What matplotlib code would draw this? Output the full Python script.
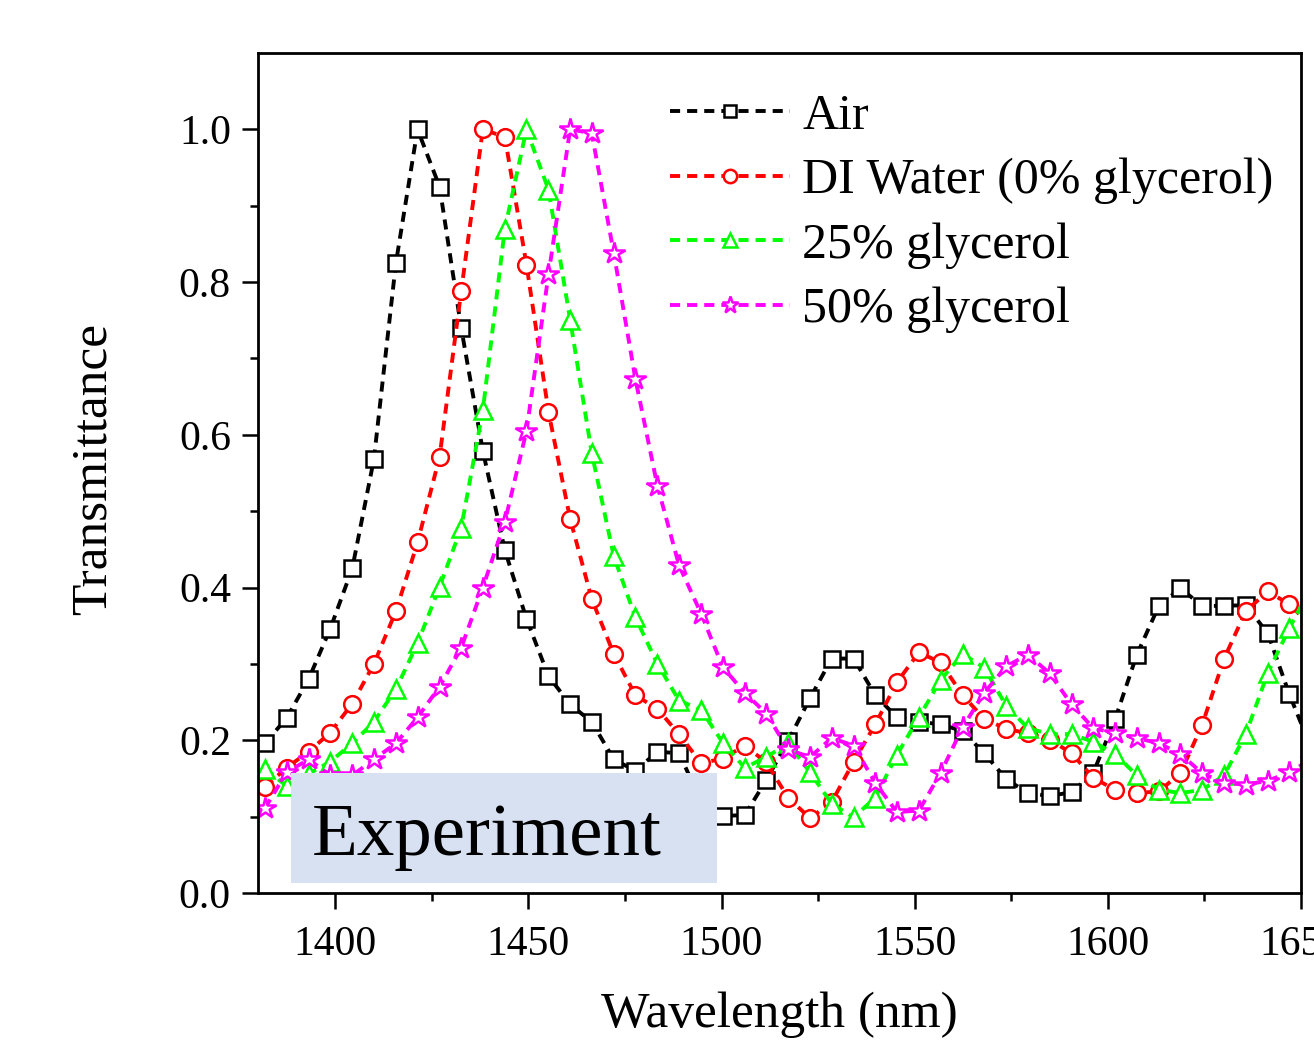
import numpy as np
import matplotlib
matplotlib.use("Agg")
import matplotlib.pyplot as plt
from matplotlib.patches import Rectangle

plt.rcParams['font.family'] = ['Liberation Serif', 'DejaVu Serif']
plt.rcParams['mathtext.fontset'] = 'stix'

# wavelength grid (nm)
wl = [1381.8, 1387.4, 1393.1, 1398.7, 1404.4, 1410.0, 1415.7, 1421.3, 1427.0, 1432.6,
      1438.2, 1443.9, 1449.5, 1455.2, 1460.8, 1466.4, 1472.1, 1477.7, 1483.4, 1489.0,
      1494.7, 1500.3, 1506.0, 1511.6, 1517.2, 1522.9, 1528.5, 1534.2, 1539.8, 1545.4,
      1551.1, 1556.7, 1562.4, 1568.0, 1573.7, 1579.3, 1584.9, 1590.6, 1596.2, 1601.9,
      1607.5, 1613.2, 1618.8, 1624.4, 1630.1, 1635.7, 1641.4, 1647.0, 1652.6]

air = [0.196, 0.229, 0.280, 0.346, 0.425, 0.568, 0.825, 1.000, 0.925, 0.740,
       0.579, 0.449, 0.359, 0.284, 0.247, 0.224, 0.175, 0.160, 0.185, 0.183,
       0.120, 0.101, 0.102, 0.148, 0.199, 0.255, 0.307, 0.307, 0.259, 0.230,
       0.224, 0.221, 0.212, 0.183, 0.149, 0.131, 0.127, 0.132, 0.157, 0.228,
       0.312, 0.376, 0.399, 0.376, 0.376, 0.377, 0.340, 0.260, 0.190]

water = [0.139, 0.164, 0.185, 0.210, 0.248, 0.300, 0.369, 0.459, 0.571, 0.788,
         1.000, 0.990, 0.823, 0.630, 0.490, 0.385, 0.313, 0.259, 0.241, 0.208,
         0.170, 0.176, 0.193, 0.171, 0.125, 0.098, 0.119, 0.172, 0.221, 0.276,
         0.315, 0.302, 0.259, 0.228, 0.215, 0.209, 0.201, 0.183, 0.151, 0.135,
         0.131, 0.133, 0.157, 0.220, 0.307, 0.369, 0.395, 0.378, 0.350]

gly25 = [0.163, 0.140, 0.156, 0.172, 0.196, 0.224, 0.267, 0.327, 0.401, 0.478,
         0.632, 0.870, 1.000, 0.921, 0.751, 0.576, 0.441, 0.361, 0.300, 0.252,
         0.240, 0.197, 0.164, 0.178, 0.196, 0.158, 0.117, 0.099, 0.125, 0.181,
         0.230, 0.279, 0.313, 0.295, 0.245, 0.216, 0.208, 0.208, 0.198, 0.182,
         0.154, 0.135, 0.131, 0.135, 0.154, 0.208, 0.288, 0.347, 0.400]

gly50 = [0.111, 0.158, 0.175, 0.154, 0.154, 0.175, 0.196, 0.230, 0.270, 0.321,
         0.400, 0.486, 0.605, 0.810, 1.000, 0.995, 0.838, 0.673, 0.533, 0.429,
         0.366, 0.296, 0.262, 0.235, 0.188, 0.178, 0.203, 0.193, 0.144, 0.106,
         0.108, 0.157, 0.217, 0.262, 0.297, 0.312, 0.288, 0.247, 0.216, 0.209,
         0.203, 0.196, 0.182, 0.157, 0.144, 0.142, 0.147, 0.158, 0.175]

labels = ['Air', 'DI Water (0% glycerol)', '25% glycerol', '50% glycerol']
colors = ['black', '#FF0000', '#00FF00', '#FF00FF']
markers = ['s', 'o', '^', '*']
msizes = [11, 12, 13, 16]

fig = plt.figure(figsize=(13.14, 10.5), dpi=100)
ax = fig.add_axes([258 / 1314, 1 - 893 / 1050, (1301 - 258) / 1314, (893 - 53) / 1050])

for ys, lab, c, m, ms in zip([air, water, gly25, gly50], labels, colors, markers, msizes):
    ax.plot(wl, ys, color=c, ls='--', dashes=(2.6, 1.8), lw=2.8,
            marker=m, ms=ms, mfc='white', mec=c, mew=1.8, label=lab)

ax.set_xlim(1380, 1650)
ax.set_ylim(0, 1.1)
ax.set_xticks([1400, 1450, 1500, 1550, 1600, 1650])
ax.set_xticks([1425, 1475, 1525, 1575, 1625], minor=True)
ax.set_yticks([0.0, 0.2, 0.4, 0.6, 0.8, 1.0])
ax.set_yticks([0.1, 0.3, 0.5, 0.7, 0.9], minor=True)
ax.yaxis.set_major_formatter(matplotlib.ticker.FormatStrFormatter('%.1f'))

for s in ax.spines.values():
    s.set_linewidth(2.0)
ax.tick_params(which='major', direction='out', length=11.5, width=1.8, labelsize=30)
ax.tick_params(axis='x', which='major', pad=12)
ax.tick_params(axis='y', which='major', pad=8)
ax.tick_params(which='minor', direction='out', length=6, width=1.8)

ax.set_xlabel('Wavelength (nm)', fontsize=37)
ax.set_ylabel('Transmittance', fontsize=37)
ax.xaxis.set_label_coords(0.5, -0.117)
ax.yaxis.set_label_coords(-0.136, 0.505)

leg = ax.legend(loc='upper left', bbox_to_anchor=(0.395, 0.952), frameon=False,
                fontsize=36, handlelength=2.4, handletextpad=0.25,
                labelspacing=0.36, borderpad=0, borderaxespad=0, markerscale=0.8)

# "Experiment" label box drawn over the data
ax.add_patch(Rectangle((0.0316, 0.0119), 0.4084, 0.131, transform=ax.transAxes,
                       facecolor='#D7E1F2', edgecolor='none', zorder=5))
ax.text(0.0518, 0.0665, 'Experiment', transform=ax.transAxes, fontsize=54,
        va='center', ha='left', zorder=6)

fig.savefig('out.png', dpi=100)
